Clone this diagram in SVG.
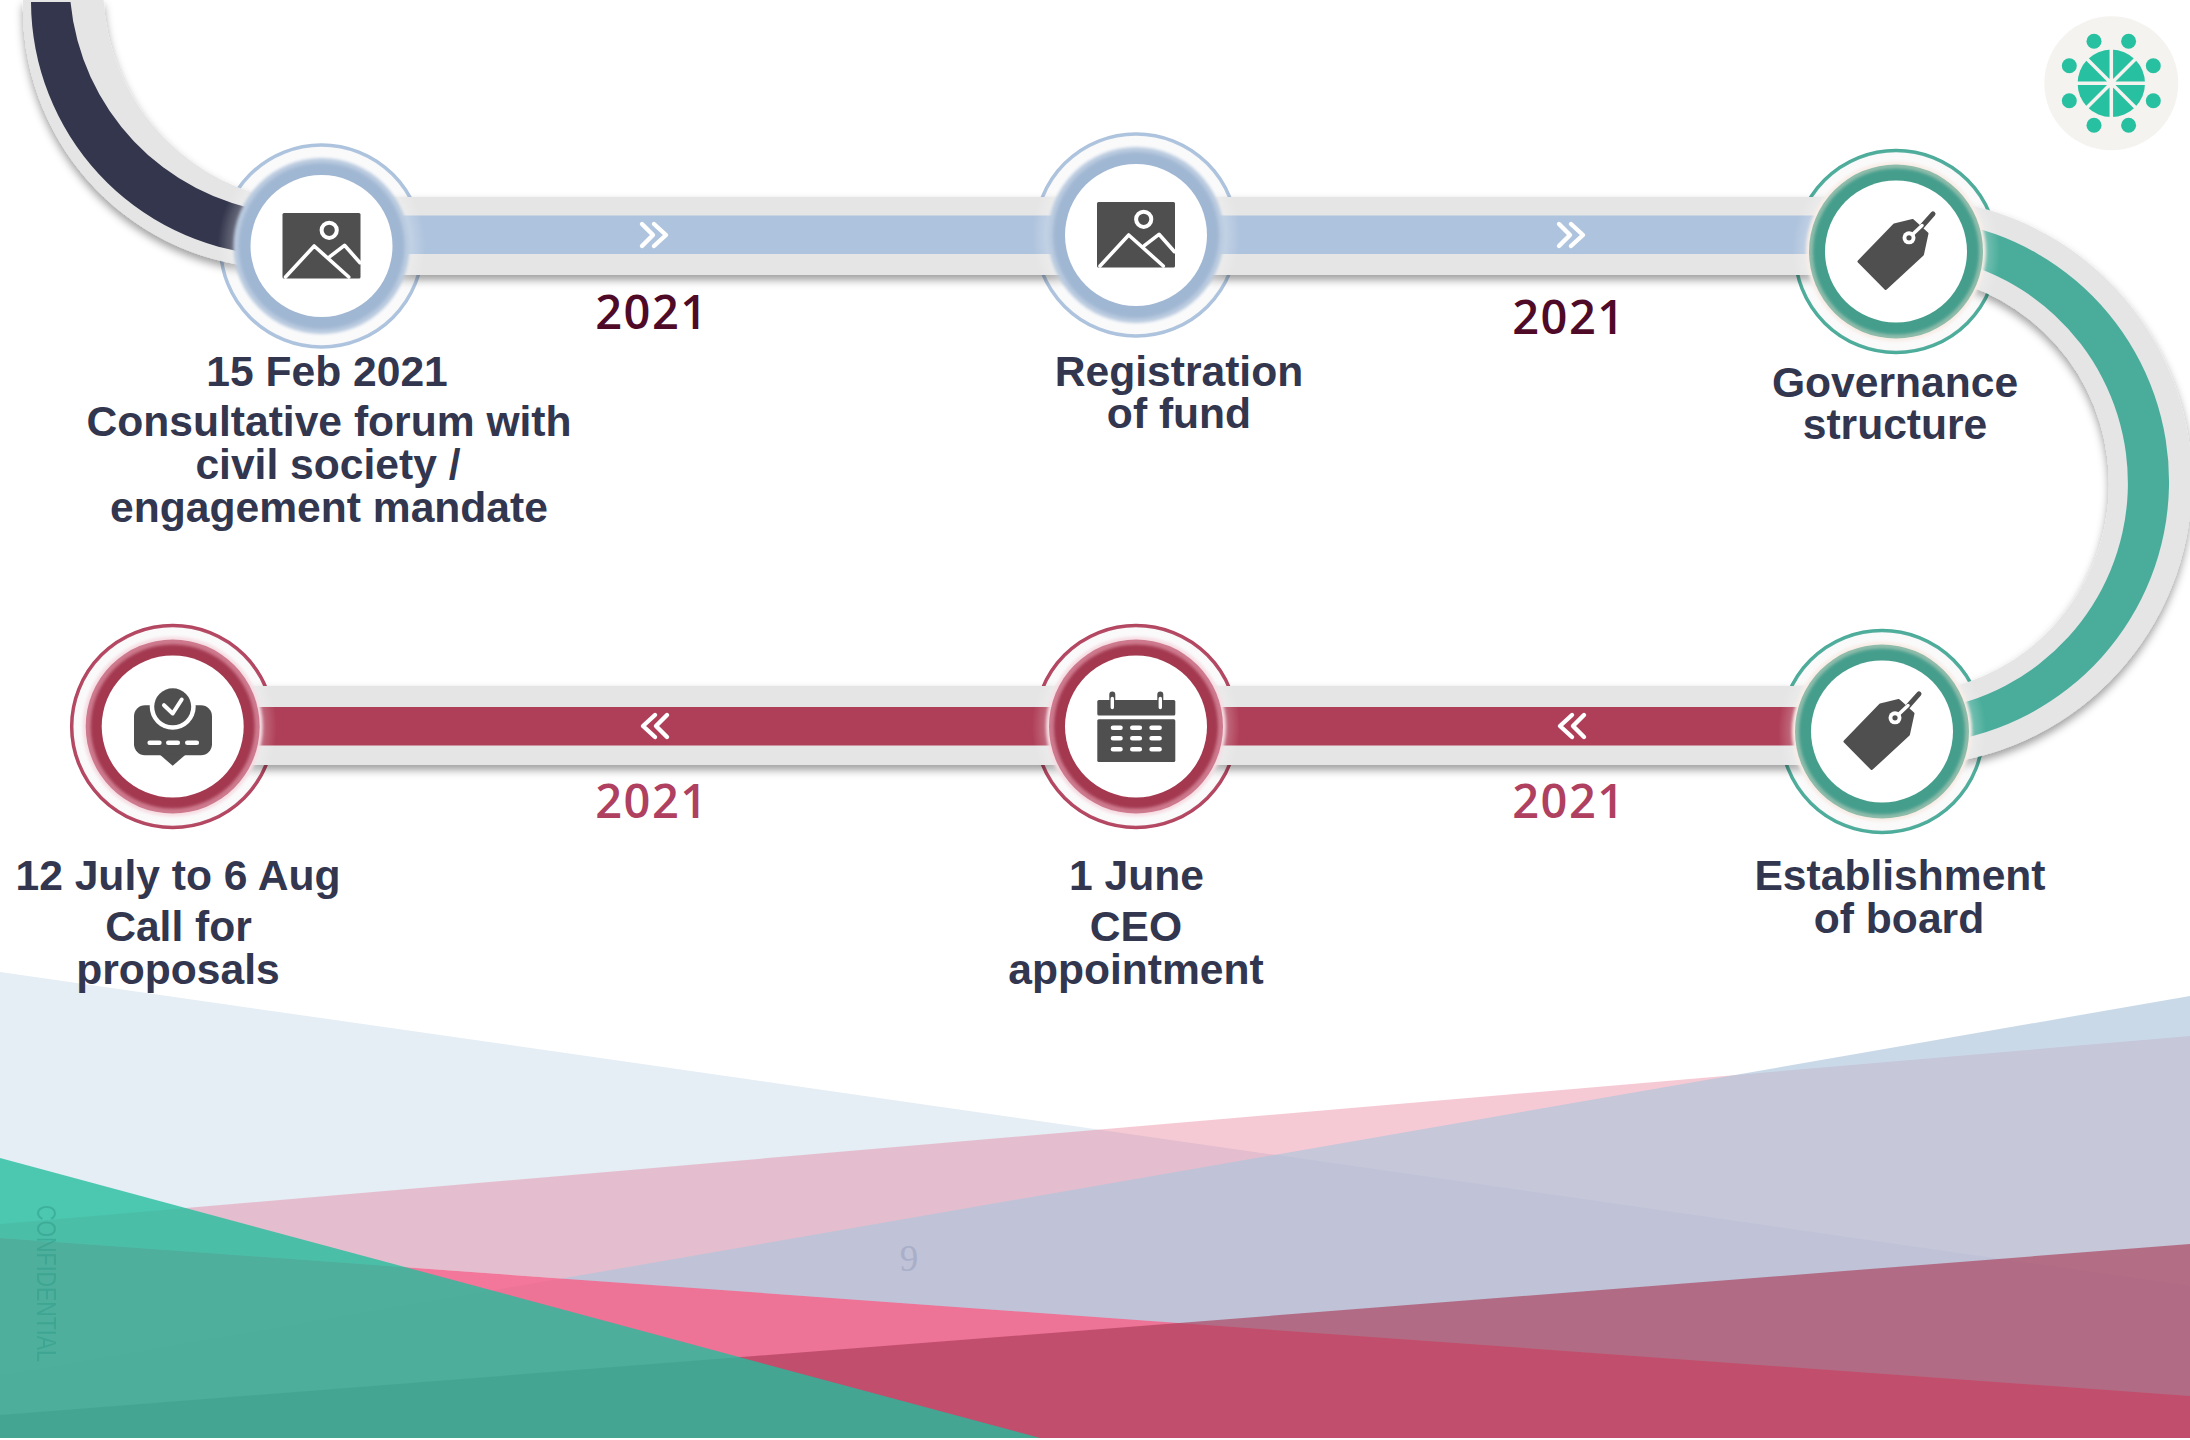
<svg xmlns="http://www.w3.org/2000/svg" xmlns:xlink="http://www.w3.org/1999/xlink" width="2190" height="1440" viewBox="0 0 2190 1440">
<style>
.lbl{font-family:"Liberation Sans",Arial,sans-serif;font-weight:700;font-size:42.6px;fill:#32364e;text-anchor:middle}
.yr{font-family:"Open Sans","Noto Sans",sans-serif;font-weight:600;font-size:47px;letter-spacing:1.5px;text-anchor:middle}
.gray{fill:#e5e5e5}
.ic{fill:#4f4f4f}
.w{fill:none;stroke:#fff;stroke-linecap:round;stroke-linejoin:round}
.chev{fill:none;stroke:#fff;stroke-width:4.4;stroke-linecap:round;stroke-linejoin:round}
.r-blue{fill:#f9f9fa;stroke:#a9c0dc;stroke-width:3.5}
.r-teal{fill:#f9f9fa;stroke:#45a896;stroke-width:3.5}
.r-red{fill:#f9f9fa;stroke:#b03e5a;stroke-width:3.5}
</style>
<defs>
<filter id="sh" filterUnits="userSpaceOnUse" x="0" y="0" width="2190" height="1000"><feDropShadow dx="0" dy="5" stdDeviation="4" flood-color="#000" flood-opacity=".38"/></filter>
<filter id="soft" x="-10%" y="-10%" width="120%" height="120%"><feGaussianBlur stdDeviation="1.6"/></filter>
<radialGradient id="glow"><stop offset=".8" stop-color="#fff" stop-opacity=".35"/><stop offset="1" stop-color="#fff" stop-opacity="0"/></radialGradient>
<g id="i-img"><rect class="ic" x="-39" y="-33" width="78" height="65.5" rx="1.5"/><circle cx="7.7" cy="-15.7" r="7.6" class="w" stroke-width="4"/><path class="w" stroke-width="3.6" d="M-36 31-7.3 0 27.3 31M8.3 10.700 23-.7 38.500 16.700"/></g>
<g id="i-tag"><path class="ic" stroke="#4f4f4f" stroke-width="3" stroke-linejoin="round" d="M-37 10-10.300 37 26.500 2.800 31-18 16.700-31-1.700-26.500Z"/><path d="M25.800-25 37-37.700" stroke="#4f4f4f" stroke-width="5" stroke-linecap="round" fill="none"/><path d="M13-13.700 26-26" class="w" stroke-width="3.500"/><circle cx="13" cy="-13.700" r="6.500" fill="#fff"/><circle cx="13" cy="-13.700" r="2.600" fill="#4f4f4f"/></g>
<g id="i-cal"><rect class="ic" x="-38.700" y="-26.500" width="78" height="15.500" rx="1.500"/><rect class="ic" x="-38.700" y="-7.200" width="78" height="42.700" rx="1.500"/><path d="M-23.700-32v10M24.300-32v10" stroke="#4f4f4f" stroke-width="6" stroke-linecap="round"/><path class="w" stroke-width="3.400" d="M-23.700-28v9M24.300-28v9"/><path class="w" stroke-width="4.600" d="M-23 1.200h7.500M-3.700 1.200h7.500M15.600 1.200h8M-23 11.800h7.500M-3.700 11.800h7.500M15.600 11.800h8M-23 22.800h7.500M-3.700 22.800h7.500M15.600 22.800h8"/></g>
<g id="i-msg"><rect class="ic" x="-38.700" y="-21.300" width="78" height="50" rx="11"/><path class="ic" d="M-13 28 0 39.300 13 28Z"/><circle cy="-19.700" r="23" fill="#fff"/><circle cy="-19.700" r="18.500" fill="#4f4f4f"/><path class="w" stroke-width="4" d="M-8.700-21.300 0-13 9-27"/><path class="w" stroke-width="4.600" d="M-23 16.300h9.700M-4.400 16.300h9.500M14.600 16.300h9.500"/></g>
</defs>

<g id="background">
<polygon fill="#e5edf5" points="0,972 2190,1286 2190,1438 0,1438"/>
<polygon fill="#e26787" opacity=".35" points="0,1224 2190,1036 2190,1396 0,1238"/>
<polygon fill="#acc5dc" opacity=".65" points="2190,996 0,1376 0,1438 2190,1438"/>
<polygon fill="#f5628a" opacity=".85" points="0,1238 2190,1396 2190,1438 0,1438"/>
<polygon fill="#a83954" opacity=".63" points="0,1415 2190,1244 2190,1438 0,1438"/>
<text x="909" y="1271" font-family="'Liberation Serif',serif" font-size="37" fill="#a9afc8" text-anchor="middle">9</text>
<polygon fill="#21be9d" opacity=".785" points="0,1158 1040,1438 0,1438"/>
<text transform="translate(37,1205) rotate(90)" font-family="'Liberation Sans',sans-serif" font-size="27" fill="#2f9c8b" opacity=".5" textLength="157" lengthAdjust="spacingAndGlyphs">CONFIDENTIAL</text>
</g>

<g id="node-rings">
<circle class="r-blue" cx="321.500" cy="246" r="101"/>
<circle class="r-blue" cx="1136" cy="235" r="101"/>
<circle class="r-teal" cx="1896" cy="251.500" r="101"/>
<circle class="r-teal" cx="1882" cy="731.500" r="101"/>
<circle class="r-red" cx="1136" cy="726.500" r="101"/>
<circle class="r-red" cx="172.700" cy="726.500" r="101"/>
</g>

<g id="connectors">
<path class="gray" filter="url(#sh)" d="M23 0A260 260 0 0 0 260 267.500L270 197.300A214 214 0 0 1 103.600 0Z"/>
<path fill="#33364c" d="M31 2A255 255 0 0 0 265 255L270 212A235 235 0 0 1 70.500 2Z"/>
<path class="gray" filter="url(#sh)" d="M1950 201.600A283.400 283.400 0 0 1 1940 763.600L1930 691.700A210 210 0 0 0 1950 280.300Z"/>
<path fill="#4aad9b" d="M1950 222.200A263 263 0 0 1 1940 742.300L1930 709.900A229 229 0 0 0 1950 259.800Z"/>
<rect class="gray" filter="url(#sh)" x="321" y="197" width="1575" height="78"/>
<rect fill="#aec3dd" x="321" y="215.500" width="1575" height="38.500"/>
<rect class="gray" filter="url(#sh)" x="172" y="686" width="1710" height="79"/>
<rect fill="#af3f58" x="172" y="707" width="1710" height="38.500"/>
<path class="chev" d="M642 224 653 235 642 246M654 224 666 235 654 246"/>
<path class="chev" d="M1559 224 1570 235 1559 246M1571 224 1583 235 1571 246"/>
<path class="chev" d="M667 715 656 726 667 737M655 715 643 726 655 737"/>
<path class="chev" d="M1584 715 1573 726 1584 737M1572 715 1560 726 1572 737"/>
</g>

<g id="node-1"><circle cx="321.500" cy="246" r="104" fill="url(#glow)"/><circle cx="321.500" cy="246" r="88" fill="#b9cadf" filter="url(#soft)"/><circle cx="321.500" cy="246" r="83" fill="#a0b7d3" filter="url(#soft)"/><circle cx="321.500" cy="246" r="71" fill="#fff"/><use xlink:href="#i-img" href="#i-img" x="321.500" y="246"/>
<text class="lbl"><tspan x="327" y="386">15 Feb 2021</tspan><tspan x="329" y="436">Consultative forum with</tspan><tspan x="328" y="479">civil society /</tspan><tspan x="329" y="522">engagement mandate</tspan></text></g>

<g id="node-2"><circle cx="1136" cy="235" r="104" fill="url(#glow)"/><circle cx="1136" cy="235" r="88" fill="#b9cadf" filter="url(#soft)"/><circle cx="1136" cy="235" r="83" fill="#a0b7d3" filter="url(#soft)"/><circle cx="1136" cy="235" r="71" fill="#fff"/><use xlink:href="#i-img" href="#i-img" x="1136" y="235"/>
<text class="lbl"><tspan x="1179" y="386">Registration</tspan><tspan x="1179" y="428">of fund</tspan></text></g>

<g id="node-3"><circle cx="1896" cy="251.500" r="104" fill="url(#glow)"/><circle cx="1896" cy="251.500" r="90" fill="#f8ede6" filter="url(#soft)"/><circle cx="1896" cy="251.500" r="87" fill="#90bcab"/><circle cx="1896" cy="251.500" r="83" fill="#449e8c" filter="url(#soft)"/><circle cx="1896" cy="251.500" r="71" fill="#fff"/><use xlink:href="#i-tag" href="#i-tag" x="1896" y="251.500"/>
<text class="lbl"><tspan x="1895" y="397">Governance</tspan><tspan x="1895" y="439">structure</tspan></text></g>

<g id="node-4"><circle cx="1882" cy="731.500" r="104" fill="url(#glow)"/><circle cx="1882" cy="731.500" r="90" fill="#f8ede6" filter="url(#soft)"/><circle cx="1882" cy="731.500" r="87" fill="#90bcab"/><circle cx="1882" cy="731.500" r="83" fill="#449e8c" filter="url(#soft)"/><circle cx="1882" cy="731.500" r="71" fill="#fff"/><use xlink:href="#i-tag" href="#i-tag" x="1882" y="731.500"/>
<text class="lbl"><tspan x="1900" y="890">Establishment</tspan><tspan x="1899" y="933">of board</tspan></text></g>

<g id="node-5"><circle cx="1136" cy="726.500" r="104" fill="url(#glow)"/><circle cx="1136" cy="726.500" r="90" fill="#f6dde3" filter="url(#soft)"/><circle cx="1136" cy="726.500" r="87" fill="#ce7a8e"/><circle cx="1136" cy="726.500" r="82" fill="#a3374f" filter="url(#soft)"/><circle cx="1136" cy="726.500" r="71" fill="#fff"/><use xlink:href="#i-cal" href="#i-cal" x="1136" y="726.500"/>
<text class="lbl"><tspan x="1136.500" y="890">1 June</tspan><tspan x="1136" y="941">CEO</tspan><tspan x="1136" y="984">appointment</tspan></text></g>

<g id="node-6"><circle cx="172.700" cy="726.500" r="104" fill="url(#glow)"/><circle cx="172.700" cy="726.500" r="90" fill="#f6dde3" filter="url(#soft)"/><circle cx="172.700" cy="726.500" r="87" fill="#ce7a8e"/><circle cx="172.700" cy="726.500" r="82" fill="#a3374f" filter="url(#soft)"/><circle cx="172.700" cy="726.500" r="71" fill="#fff"/><use xlink:href="#i-msg" href="#i-msg" x="172.700" y="726.500"/>
<text class="lbl"><tspan x="178" y="890">12 July to 6 Aug</tspan><tspan x="178.500" y="941">Call for</tspan><tspan x="178" y="984">proposals</tspan></text></g>

<g id="years">
<text class="yr" x="652" y="329" fill="#4f0a28">2021</text>
<text class="yr" x="1569" y="334" fill="#4f0a28">2021</text>
<text class="yr" x="652" y="818" fill="#b04060">2021</text>
<text class="yr" x="1569" y="818" fill="#b04060">2021</text>
</g>

<g id="logo">
<circle cx="2111.300" cy="83.300" r="67" fill="#f4f3ef"/>
<circle cx="2111.300" cy="83.300" r="33.700" fill="#27c0a0"/>
<path d="M2111.300 47V120M2075 83.300H2148M2085.500 57.500 2137 109M2085.500 109 2137 57.500" stroke="#f4f3ef" stroke-width="3.500"/>
<g fill="#27c0a0"><circle cx="2094" cy="41.300" r="7.500"/><circle cx="2128.600" cy="41.300" r="7.500"/><circle cx="2069.300" cy="65.800" r="7.500"/><circle cx="2153.300" cy="65.800" r="7.500"/><circle cx="2069.300" cy="100.800" r="7.500"/><circle cx="2153.300" cy="100.800" r="7.500"/><circle cx="2094" cy="125.300" r="7.500"/><circle cx="2128.600" cy="125.300" r="7.500"/></g>
</g>
</svg>
